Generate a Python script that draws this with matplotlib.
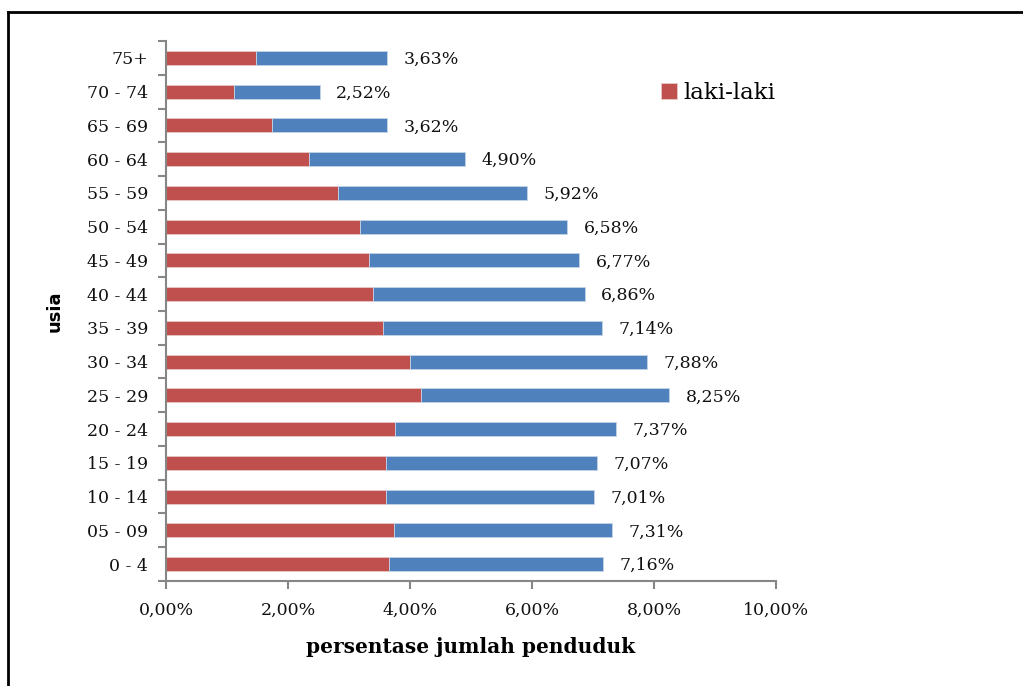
import matplotlib.pyplot as plt
import numpy as np
from matplotlib.lines import Line2D
from matplotlib.ticker import FixedLocator, FuncFormatter

# kelompok umur dan persentase penduduk
usia = ["0 - 4", "05 - 09", "10 - 14", "15 - 19", "20 - 24", "25 - 29", "30 - 34",
        "35 - 39", "40 - 44", "45 - 49", "50 - 54", "55 - 59", "60 - 64",
        "65 - 69", "70 - 74", "75+"]
total = [7.16, 7.31, 7.01, 7.07, 7.37, 8.25, 7.88, 7.14, 6.86, 6.77, 6.58,
         5.92, 4.90, 3.62, 2.52, 3.63]
laki_laki = [3.66, 3.73, 3.60, 3.61, 3.75, 4.18, 4.00, 3.56, 3.39, 3.32, 3.18,
             2.82, 2.35, 1.73, 1.12, 1.47]
perempuan = [t - l for t, l in zip(total, laki_laki)]

merah = "#C0504D"
biru = "#4F81BD"
abu = "#868686"
serif = "DejaVu Serif"

fig = plt.figure(figsize=(10.23, 6.86), dpi=100)
ax = fig.add_axes([0.1623, 0.1531, 0.5963, 0.7871])

y = np.arange(len(usia))
ax.barh(y, laki_laki, height=0.42, color=merah, edgecolor="#e8c8c7",
        linewidth=0.6, label="laki-laki")
ax.barh(y, perempuan, left=laki_laki, height=0.42, color=biru,
        edgecolor="#c4d3e6", linewidth=0.6, label="_perempuan")

for yi, t in zip(y, total):
    ax.text(t + 0.27, yi - 0.05, f"{t:.2f}%".replace(".", ","), va="center",
            ha="left", fontsize=12.5, family=serif, color="#111111")

ax.set_xlim(0, 10)
ax.set_ylim(-0.5, len(usia) - 0.5)
ax.set_xticks(np.arange(0, 10.01, 2))
ax.xaxis.set_major_formatter(FuncFormatter(lambda v, p: f"{v:.2f}%".replace(".", ",")))
ax.set_yticks(y)
ax.set_yticklabels(usia)
ax.yaxis.set_minor_locator(FixedLocator(np.arange(-0.5, len(usia), 1)))

for lab in ax.get_xticklabels() + ax.get_yticklabels():
    lab.set_family(serif)
    lab.set_fontsize(12.5)
    lab.set_color("#111111")

ax.tick_params(axis="y", which="major", length=0, pad=13)
ax.tick_params(axis="y", which="minor", length=6, width=1.5, color=abu, direction="out")
ax.tick_params(axis="x", which="major", length=6, width=1.5, color=abu, direction="out", pad=9)

for s in ["top", "right"]:
    ax.spines[s].set_visible(False)
for s in ["left", "bottom"]:
    ax.spines[s].set_color(abu)
    ax.spines[s].set_linewidth(1.5)

ax.set_xlabel("persentase jumlah penduduk", family=serif, fontsize=14.5,
              fontweight="bold", labelpad=13)
fig.text(0.053, 0.547, "usia", rotation=90, ha="center", va="center",
         fontsize=13, fontweight="bold", family="DejaVu Sans")

leg = ax.legend(loc="upper left", bbox_to_anchor=(0.777, 0.962), frameon=False,
                prop={"family": serif, "size": 16.5}, handlelength=0.7,
                handleheight=0.7, handletextpad=0.3)

# bingkai luar (hanya sisi atas dan kiri yang terlihat)
x0, y0 = 8 / 1023, 1 - 12 / 686
fig.add_artist(Line2D([x0, 1.0], [y0, y0], transform=fig.transFigure,
                      color="black", linewidth=2))
fig.add_artist(Line2D([x0, x0], [0.0, y0], transform=fig.transFigure,
                      color="black", linewidth=2))

fig.savefig("out.png", dpi=100)
